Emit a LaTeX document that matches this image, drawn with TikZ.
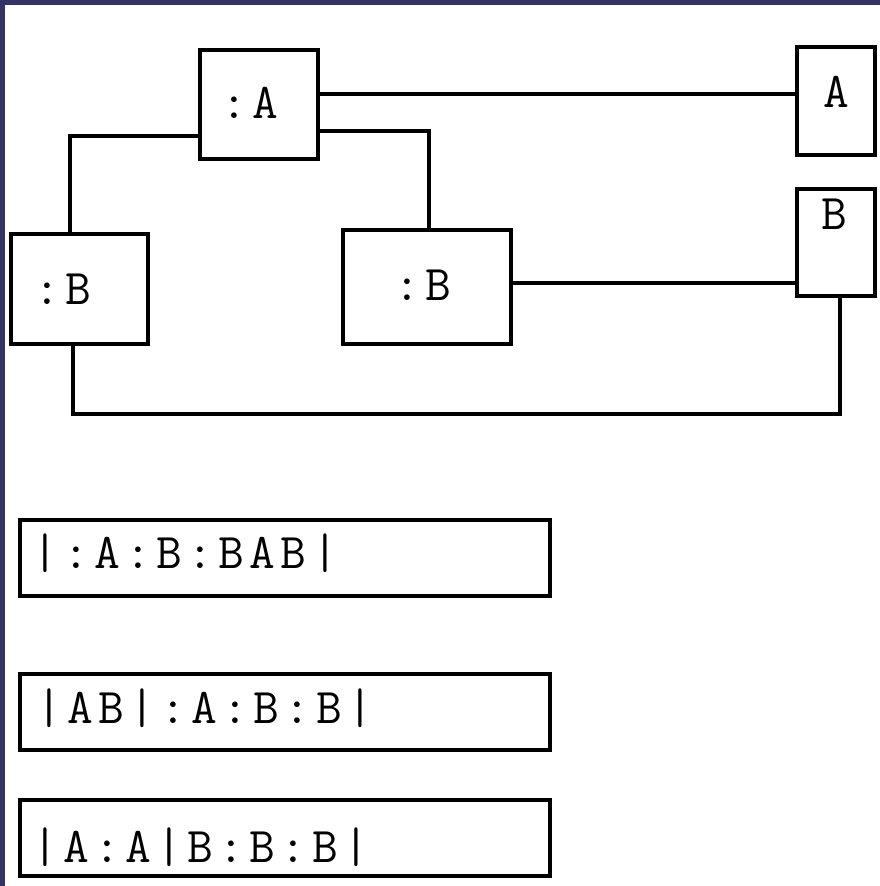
\documentclass[tikz,border=0pt]{standalone}
\usepackage{fontspec}
\newfontfamily\monofnt[LetterSpace=10.7]{Latin Modern Mono}
\definecolor{navy}{RGB}{51,51,102}
\begin{document}
\begin{tikzpicture}[x=1pt,y=1pt,
  box/.style={draw,line width=4pt,rectangle,inner sep=0pt,fill=white},
  conn/.style={line width=4pt},
  txt/.style={inner sep=0pt,anchor=base west,font=\monofnt\fontsize{50}{60}\selectfont}]
\fill[navy] (0,0) rectangle (880,-886);
\fill[white] (5,-5) rectangle (880,-886);
\useasboundingbox (0,0) rectangle (880,-886);
% boxes
\node[box,minimum width=118pt,minimum height=109pt] (A1) at (259,-104.5) {};
\node[box,minimum width=78pt,minimum height=108pt] (A2) at (836,-101) {};
\node[box,minimum width=78pt,minimum height=107pt] (B2) at (836,-242.5) {};
\node[box,minimum width=137pt,minimum height=110pt] (B1) at (79.5,-289) {};
\node[box,minimum width=168pt,minimum height=114pt] (B3) at (427,-287) {};
\node[box,minimum width=530pt,minimum height=76pt] (S1) at (285,-558) {};
\node[box,minimum width=530pt,minimum height=76pt] (S2) at (285,-712) {};
\node[box,minimum width=530pt,minimum height=76pt] (S3) at (285,-838) {};
% texts
\node[txt] (tA1) at (221,-118) {:A};
\node[txt] (tA2) at (823,-107) {A};
\node[txt] (tB2) at (821.5,-229) {B};
\node[txt] (tB1) at (34.5,-304) {:B};
\node[txt] (tB3) at (394,-300) {:B};
\node[txt] (tS1) at (32,-568) {|:A:B:BAB|};
\node[txt] (tS2) at (36,-723) {|AB|:A:B:B|};
\node[txt] (tS3) at (32,-862) {|A:A|B:B:B|};
% connectors
\draw[conn] ([yshift=10.5pt]A1.east) -- ([yshift=7pt]A2.west);
\draw[conn] ([yshift=-31.5pt]A1.west) -| ([xshift=-9.5pt]B1.north);
\draw[conn] ([yshift=-26.5pt]A1.east) -| ([xshift=2pt]B3.north);
\draw[conn] ([yshift=4pt]B3.east) -- ([yshift=-40.5pt]B2.west);
\draw[conn] ([xshift=-6.5pt]B1.south) -- ++(0,-68) -| ([xshift=4pt]B2.south);
\end{tikzpicture}
\end{document}
